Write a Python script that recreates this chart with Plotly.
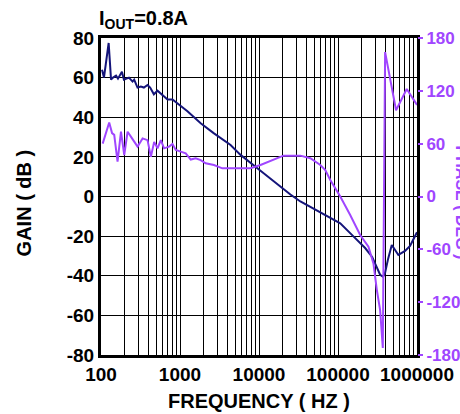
import plotly.graph_objects as go

# ---- data ----
gain_freq = [103, 109, 125, 134, 142, 155, 164, 184, 195, 226, 251, 263, 290, 320, 349, 388,
             419, 467, 519, 601, 695, 803, 929, 1242, 1828, 2666, 4366, 5843, 10450, 18670,
             24970, 33400, 59700, 106800, 155600, 220600, 270600, 322200, 341400, 372400,
             394700, 430600, 479400, 527800, 580600, 706000, 816500, 1000000]
gain_db = [64, 60, 77.5, 59, 60, 61, 59.5, 63, 59, 60, 58, 59, 55, 55.5, 55, 56.3,
           55, 51.6, 53.4, 51.3, 49, 49, 47, 43, 37, 32, 26, 21, 13, 5,
           1, -2.5, -8, -13.5, -20, -26, -30.5, -37, -39.5, -40.5,
           -38.5, -31.5, -24.5, -27, -29.5, -27.5, -25, -18]

phase_freq = [105, 127, 138, 147, 162, 179, 197, 217, 239, 290, 336, 388, 428, 471, 519, 572,
              629, 727, 803, 884, 1022, 1182, 1367, 1580, 1828, 2113, 2689, 3434, 5843, 7810,
              10440, 13970, 20380, 33400, 44650, 59700, 69050, 79860, 106800, 142700, 190900,
              242900, 280900, 310100, 341400, 369300, 394700, 543300, 741300, 1000000]
phase_deg = [60, 84, 72, 70, 39.5, 73.6, 47, 73.6, 68, 56.6, 66, 64, 45, 62, 54.7, 64,
             54.7, 56.6, 59.6, 52.8, 51, 49, 42, 43.4, 41.4, 37.7, 35.8, 32, 32, 32,
             35.8, 40.3, 46.4, 46.4, 43.4, 35.8, 30, 18.7, 0, -21, -43.7,
             -57, -76, -106, -129, -172, 164, 98, 122, 104]

x_ticks = [100, 1000, 10000, 100000, 1000000]
x_tick_text = ["100", "1000", "10000", "100000", "1000000"]
minor_ticks = [m * d for d in [100, 1000, 10000, 100000] for m in range(2, 10)]
gain_ticks = [-80, -60, -40, -20, 0, 20, 40, 60, 80]
gain_tick_text = ["-80", "-60", "-40", "-20", "0", "20", "40", "60", "80"]
phase_ticks = [-180, -120, -60, 0, 60, 120, 180]
phase_tick_text = ["-180", "-120", "-60", "0", "60", "120", "180"]

GAIN_COLOR = "#14147a"
PHASE_COLOR = "#a046ff"
FONT = "Liberation Sans, Arial, sans-serif"

fig = go.Figure()
fig.add_trace(go.Scatter(x=gain_freq, y=gain_db, mode="lines",
                         line=dict(color=GAIN_COLOR, width=2), yaxis="y", showlegend=False))
fig.add_trace(go.Scatter(x=phase_freq, y=phase_deg, mode="lines",
                         line=dict(color=PHASE_COLOR, width=2), yaxis="y2", showlegend=False))

fig.update_layout(
    width=460, height=414,
    margin=dict(l=101, r=43, t=38, b=59, autoexpand=False),
    paper_bgcolor="white", plot_bgcolor="white",
    font=dict(family=FONT, size=19, color="black"),
    xaxis=dict(type="log", range=[2, 6], tickvals=x_ticks, ticktext=x_tick_text,
               showgrid=True, gridcolor="black", gridwidth=1.3, automargin=False,
               minor=dict(tickvals=minor_ticks, showgrid=True, gridcolor="black", gridwidth=1.2, ticks=""),
               showline=True, linecolor="black", linewidth=2.5, mirror=True,
               ticks="", tickfont=dict(family=FONT, size=19, color="black", weight="bold"),
               zeroline=False),
    yaxis=dict(range=[-80, 80], tickvals=gain_ticks, ticktext=gain_tick_text,
               showgrid=True, gridcolor="black", gridwidth=1.4,
               showline=True, linecolor="black", linewidth=3, mirror=True, ticks="", automargin=False,
               tickfont=dict(family=FONT, size=19, color="black", weight="bold"), zeroline=False),
    yaxis2=dict(range=[-180, 180], tickvals=phase_ticks, ticktext=phase_tick_text,
                overlaying="y", side="right",
                showgrid=False, zeroline=False, ticks="outside", ticklen=5, tickwidth=2,
                tickcolor=PHASE_COLOR, showline=False, automargin=False,
                tickfont=dict(family=FONT, size=17, color=PHASE_COLOR, weight="bold")),
    annotations=[
        dict(text="I<sub>OUT</sub>=0.8A", xref="paper", yref="paper", x=-0.012, y=1.0,
             xanchor="left", yanchor="bottom", yshift=4, showarrow=False,
             font=dict(family=FONT, size=20, color="black", weight="bold")),
        dict(text="GAIN ( dB )", xref="paper", yref="paper", x=-0.245, y=0.48,
             xanchor="center", yanchor="middle", textangle=-90, showarrow=False,
             font=dict(family=FONT, size=20, color="black", weight="bold")),
        dict(text="FREQUENCY ( HZ )", xref="paper", yref="paper", x=0.5, y=-0.146,
             xanchor="center", yanchor="middle", showarrow=False,
             font=dict(family=FONT, size=20, color="black", weight="bold")),
        dict(text="PHASE ( DEG )", xref="paper", yref="paper", x=1.14, y=0.48,
             xanchor="center", yanchor="middle", textangle=90, showarrow=False,
             font=dict(family=FONT, size=16, color=PHASE_COLOR, weight="bold")),
    ],
)

fig.write_html("out.html")
